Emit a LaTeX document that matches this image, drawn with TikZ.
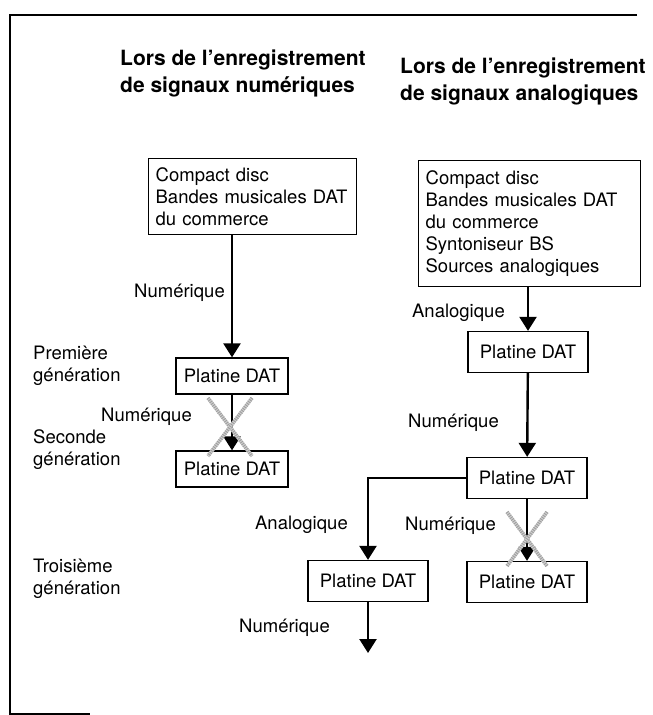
\documentclass[tikz,border=0pt]{standalone}
\usepackage{fontspec}
\setmainfont{TeX Gyre Heros}
\usetikzlibrary{calc,arrows.meta}

\begin{document}
\begin{tikzpicture}[
  x=1pt, y=-1pt,
  every node/.style={inner sep=0pt, font=\fontsize{18.5}{22}\selectfont},
  heading/.style={anchor=north west, align=left, font=\fontsize{21}{27}\selectfont\bfseries},
  srcbox/.style={draw, line width=1.3pt, anchor=north west, align=left, inner xsep=7pt},
  dat/.style={draw, line width=1.3pt, minimum width=120pt, minimum height=41pt},
  datsmall/.style={dat, minimum width=112pt, minimum height=36pt},
  lbl/.style={align=left},
  arr/.style={draw, line width=2.4pt, -{Triangle[width=17pt,length=14pt]}},
  xmark/.style={draw=gray!35, line width=3.6pt,
    postaction={draw=gray!75, line width=3.6pt, dash pattern=on 1pt off 1.2pt}}
]
\useasboundingbox (0,0) rectangle (653,715);
% frame
\draw[line width=1.2pt] (637,15) -- (10,15) -- (10,714) -- (90,714);

% headings
\node[heading] (headL) at (120,50) {Lors de l'enregistrement\\de signaux numériques};
\node[heading] (headR) at (400,58) {Lors de l'enregistrement\\de signaux analogiques};

% sources
\node[srcbox, text width=194pt, minimum height=76pt] (srcL) at (148,158)
  {Compact disc\\Bandes musicales DAT\\du commerce};
\node[srcbox, text width=208pt, minimum height=126pt] (srcR) at (418,160)
  {Compact disc\\Bandes musicales DAT\\du commerce\\Syntoniseur BS\\Sources analogiques};

% decks
\node[datsmall] (datL1) at (232,376) {Platine DAT};
\node[datsmall] (datL2) at (232,469) {Platine DAT};
\node[dat] (datR1) at (528,352) {Platine DAT};
\node[dat] (datR2) at (527,478) {Platine DAT};
\node[dat] (datR3a) at (368,581) {Platine DAT};
\node[dat] (datR3b) at (527,582) {Platine DAT};
\coordinate (endR) at (368,653);

% generations
\node[lbl, anchor=west] (gen1) at (33,366) {Première\\génération};
\node[lbl, anchor=west] (gen2) at (33,450) {Seconde\\génération};
\node[lbl, anchor=west] (gen3) at (33,579) {Troisième\\génération};

% links
\draw[arr] (srcL.south -| datL1.north) -- (datL1.north);
\draw[arr] (datL1) -- (datL2);
\draw[arr] (srcR.south -| datR1.north) -- (datR1.north);
\draw[arr] (datR1) -- (datR2);
\draw[arr] (datR2.west) -| (datR3a.north);
\draw[arr] (datR2) -- (datR3b);
\draw[arr] (datR3a) -- (endR);

\node[anchor=east] (numL1) at (225,293) {Numérique};
\node[anchor=east] (numL2) at (192,417) {Numérique};
\node[anchor=east] (anaR1) at (505,313) {Analogique};
\node[anchor=east] (numR2) at (499,423) {Numérique};
\node[anchor=east] (anaR3) at (348,525) {Analogique};
\node[anchor=east] (numR3) at (496,526) {Numérique};
\node[anchor=east] (numR4) at (330,628) {Numérique};

% forbidden copies
\coordinate (xL) at (230,427);
\coordinate (xR) at (527,539);
\draw[xmark] ($(xL)+(-22,-29)$) -- ($(xL)+(22,29)$);
\draw[xmark] ($(xL)+(22,-29)$) -- ($(xL)+(-22,29)$);
\draw[xmark] ($(xR)+(-20,-27)$) -- ($(xR)+(20,27)$);
\draw[xmark] ($(xR)+(20,-27)$) -- ($(xR)+(-20,27)$);
\end{tikzpicture}
\end{document}
